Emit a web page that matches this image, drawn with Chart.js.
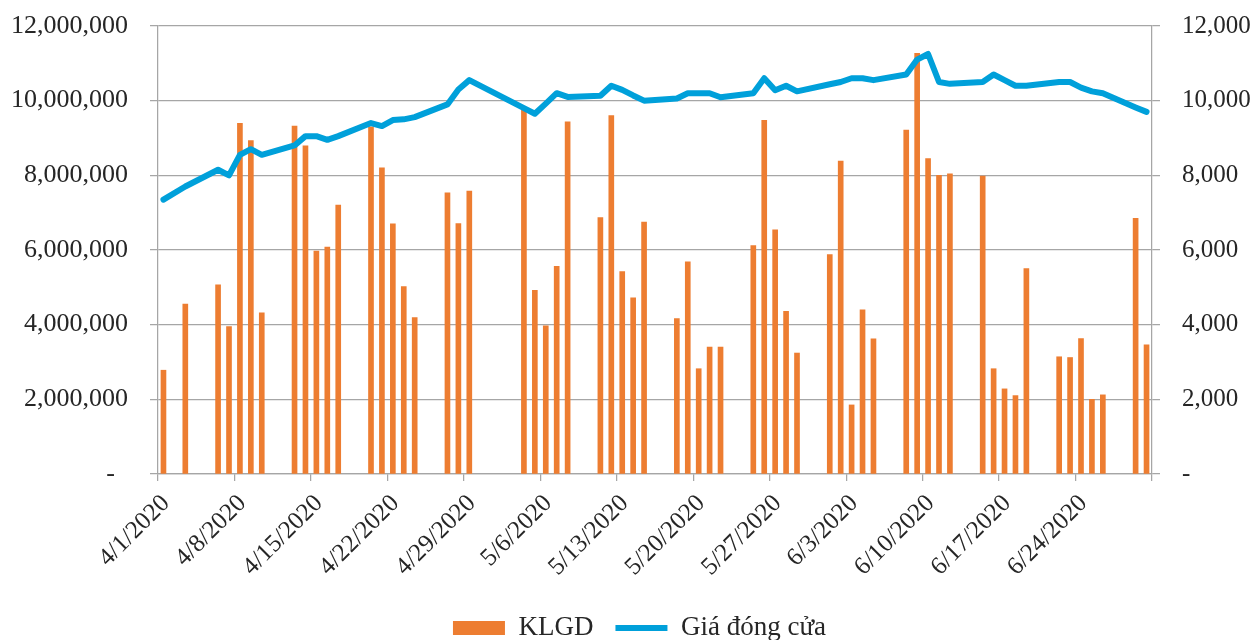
<!DOCTYPE html>
<html>
<head>
<meta charset="utf-8">
<script src="https://cdn.jsdelivr.net/npm/chart.js@4.4.0/dist/chart.umd.min.js"></script>
<style>
  html, body { margin: 0; padding: 0; background: #fff; overflow: hidden; }
  #wrap { width: 1257px; height: 660px; position: relative; }
</style>
</head>
<body>
<div id="wrap"><canvas id="chart"></canvas></div>
<script>
// trading days, Apr-Jun 2020 (m/d)
const tradingDays = [
  '4/1','4/3','4/6','4/7','4/8','4/9','4/10',
  '4/13','4/14','4/15','4/16','4/17',
  '4/20','4/21','4/22','4/23','4/24',
  '4/27','4/28','4/29',
  '5/4','5/5','5/6','5/7','5/8',
  '5/11','5/12','5/13','5/14','5/15',
  '5/18','5/19','5/20','5/21','5/22',
  '5/25','5/26','5/27','5/28','5/29',
  '6/1','6/2','6/3','6/4','6/5',
  '6/8','6/9','6/10','6/11','6/12',
  '6/15','6/16','6/17','6/18','6/19',
  '6/22','6/23','6/24','6/25','6/26',
  '6/29','6/30'
];

const klgd = [
  2780000, 4550000, 5070000, 3950000, 9390000, 8930000, 4320000,
  9320000, 8790000, 5970000, 6080000, 7200000,
  9300000, 8200000, 6700000, 5020000, 4190000,
  7530000, 6710000, 7580000,
  9750000, 4920000, 3970000, 5560000, 9430000,
  6870000, 9600000, 5420000, 4720000, 6750000,
  4160000, 5680000, 2820000, 3400000, 3400000,
  6120000, 9470000, 6540000, 4360000, 3240000,
  5880000, 8380000, 1850000, 4400000, 3620000,
  9210000, 11270000, 8450000, 8000000, 8040000,
  7980000, 2820000, 2280000, 2100000, 5500000,
  3140000, 3120000, 3630000, 2000000, 2120000,
  6850000, 3460000
];

const giaDongCua = [
  7350, 7700, 8150, 8000, 8550, 8700, 8550,
  8800, 9050, 9050, 8950, 9050,
  9400, 9320, 9480, 9500, 9560,
  9900, 10300, 10550,
  9800, 9650, 9920, 10200, 10100,
  10130, 10400, 10290, 10140, 10000,
  10060, 10200, 10200, 10200, 10090,
  10200, 10600, 10280, 10400, 10250,
  10440, 10500, 10600, 10600, 10550,
  10700, 11100, 11250, 10500, 10450,
  10500, 10700, 10550, 10400, 10400,
  10500, 10500, 10350, 10250, 10200,
  9820, 9700
];

const volumeTicks = [0, 2000000, 4000000, 6000000, 8000000, 10000000, 12000000];
const priceTicks = [0, 2000, 4000, 6000, 8000, 10000, 12000];
const dateTicks = ['4/1/2020','4/8/2020','4/15/2020','4/22/2020','4/29/2020','5/6/2020',
  '5/13/2020','5/20/2020','5/27/2020','6/3/2020','6/10/2020','6/17/2020','6/24/2020', ''];

const START = Date.UTC(2020, 3, 1);
function dayOffset(md) {
  const [m, d] = md.split('/').map(Number);
  return (Date.UTC(2020, m - 1, d) - START) / 86400000;
}

const barPoints = tradingDays.map((d, i) => ({ x: dayOffset(d) + 0.5, y: klgd[i] }));
const linePoints = tradingDays.map((d, i) => ({ x: dayOffset(d) + 0.5, y: giaDongCua[i] }));

const fontFamily = '"Liberation Serif", "Times New Roman", serif';
const textColor = '#262626';
const gridColor = '#A6A6A6';

const fmt = v => v.toLocaleString('en-US');

// y axes: fixed width, no extra top/bottom padding from tick labels
function fixAxis(width) {
  return scale => {
    scale.width = width;
    scale.paddingTop = 0;
    scale.paddingBottom = 0;
  };
}

// nudge the legend a bit to the right, like the original
const legendShift = {
  id: 'legendShift',
  afterLayout(chart) {
    if (chart.legend) chart.legend.left += 22;
  }
};

const ctx = document.getElementById('chart').getContext('2d');
const chart = new Chart(ctx, {
  type: 'bar',
  data: {
    datasets: [
      {
        type: 'bar',
        label: 'KLGD',
        data: barPoints,
        backgroundColor: '#ED7D31',
        borderWidth: 0,
        barThickness: 5,
        yAxisID: 'y',
        order: 1
      },
      {
        type: 'line',
        label: 'Giá đóng cửa',
        data: linePoints,
        borderColor: '#00A0DA',
        backgroundColor: '#00A0DA',
        borderWidth: 6,
        borderCapStyle: 'round',
        borderJoinStyle: 'round',
        pointRadius: 0,
        tension: 0,
        yAxisID: 'y1',
        order: 0
      }
    ]
  },
  options: {
    responsive: true,
    maintainAspectRatio: false,
    animation: false,
    layout: { padding: { top: 26, left: 0, right: 0, bottom: 8.5 } },
    plugins: {
      tooltip: { enabled: false },
      legend: {
        position: 'bottom',
        labels: {
          usePointStyle: true,
          pointStyleWidth: 52,
          boxHeight: 14,
          padding: 22,
          color: textColor,
          font: { family: fontFamily, size: 27 },
          sort: (a, b) => a.datasetIndex - b.datasetIndex,
          generateLabels: function(chart) {
            const items = Chart.defaults.plugins.legend.labels.generateLabels(chart);
            items.forEach(item => {
              item.pointStyle = item.datasetIndex === 0 ? 'rect' : 'line';
            });
            return items;
          }
        }
      }
    },
    scales: {
      x: {
        type: 'linear',
        min: 0,
        max: 91,
        offset: false,
        grid: { offset: false, drawOnChartArea: false, tickLength: 7, color: gridColor, lineWidth: 1.25 },
        border: { color: gridColor, width: 1.25 },
        afterBuildTicks: scale => {
          scale.ticks = dateTicks.map((t, i) => ({ value: i * 7 }));
        },
        ticks: {
          autoSkip: false,
          minRotation: 45,
          maxRotation: 45,
          padding: 8,
          labelOffset: 8,
          color: textColor,
          font: { family: fontFamily, size: 25 },
          callback: (value, index) => dateTicks[index]
        },
        afterFit: scale => { scale.height = 118.5; }
      },
      y: {
        position: 'left',
        min: 0,
        max: 12000000,
        afterBuildTicks: scale => {
          scale.ticks = volumeTicks.map(v => ({ value: v }));
        },
        grid: { color: gridColor, lineWidth: 1.25, tickLength: 8 },
        border: { color: gridColor, width: 1.25 },
        ticks: {
          padding: 22,
          color: textColor,
          font: { family: fontFamily, size: 26 },
          callback: v => v === 0 ? '-  ' : fmt(v)
        },
        afterFit: fixAxis(158)
      },
      y1: {
        position: 'right',
        min: 0,
        max: 12000,
        afterBuildTicks: scale => {
          scale.ticks = priceTicks.map(v => ({ value: v }));
        },
        grid: { drawOnChartArea: false, color: gridColor, lineWidth: 1.25, tickLength: 8 },
        border: { color: gridColor, width: 1.25 },
        ticks: {
          padding: 22,
          color: textColor,
          font: { family: fontFamily, size: 25 },
          callback: v => v === 0 ? '-' : fmt(v)
        },
        afterFit: fixAxis(105)
      }
    }
  },
  plugins: [legendShift]
});
</script>
</body>
</html>
